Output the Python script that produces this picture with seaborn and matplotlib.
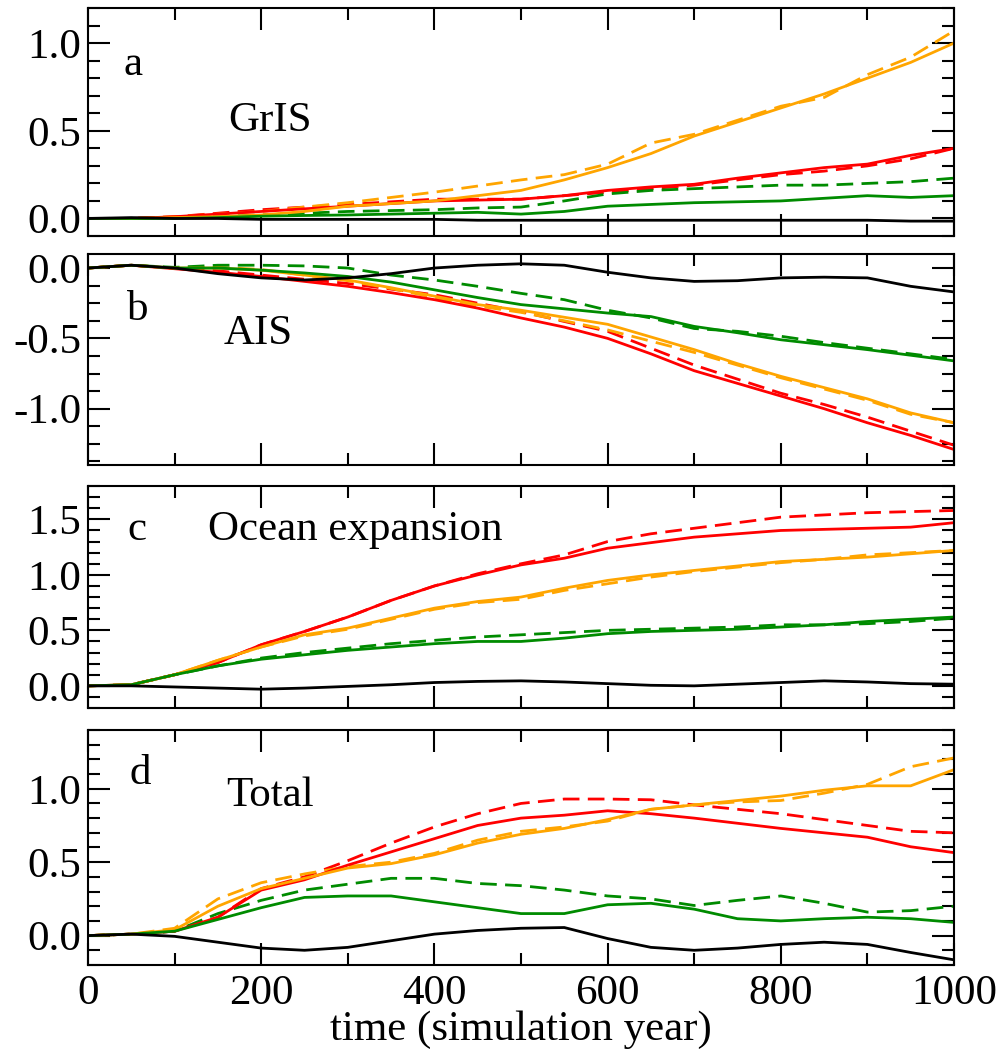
import numpy as np
import pandas as pd
import matplotlib
matplotlib.use("Agg")
import matplotlib.pyplot as plt
from matplotlib.ticker import MultipleLocator, FormatStrFormatter
import seaborn as sns

# ---- data: sea-level contributions sampled every 50 simulation years ----
years = [0, 50, 100, 150, 200, 250, 300, 350, 400, 450, 500,
         550, 600, 650, 700, 750, 800, 850, 900, 950, 1000]

# (a) GrIS
gris_orange = [0, 0.0, 0.005, 0.01, 0.02, 0.04, 0.07, 0.085, 0.10, 0.13, 0.16,
               0.22, 0.29, 0.37, 0.47, 0.55, 0.63, 0.71, 0.80, 0.89, 1.00]
gris_orange_d = [0, 0.0, 0.01, 0.025, 0.04, 0.065, 0.09, 0.12, 0.15, 0.185, 0.22,
                 0.25, 0.31, 0.43, 0.48, 0.56, 0.64, 0.69, 0.82, 0.92, 1.07]
gris_red = [0, 0.0, 0.01, 0.025, 0.04, 0.055, 0.07, 0.085, 0.10, 0.105, 0.11,
            0.13, 0.16, 0.18, 0.195, 0.23, 0.26, 0.29, 0.31, 0.36, 0.40]
gris_red_d = [0, 0.0, 0.01, 0.03, 0.05, 0.065, 0.08, 0.095, 0.11, 0.11, 0.11,
              0.13, 0.15, 0.17, 0.19, 0.22, 0.25, 0.27, 0.30, 0.34, 0.40]
gris_green = [0, 0.0, 0.0, 0.005, 0.013, 0.017, 0.02, 0.025, 0.03, 0.035, 0.025,
              0.04, 0.07, 0.08, 0.09, 0.095, 0.10, 0.115, 0.13, 0.12, 0.13]
gris_green_d = [0, 0.0, 0.005, 0.01, 0.02, 0.03, 0.04, 0.045, 0.05, 0.06, 0.065,
                0.10, 0.14, 0.16, 0.17, 0.18, 0.19, 0.19, 0.20, 0.21, 0.23]
gris_black = [0, 0.005, 0.0, 0.0, -0.005, -0.005, -0.005, -0.005, -0.005, -0.01, -0.01,
              -0.01, -0.01, -0.01, -0.01, -0.01, -0.01, -0.01, -0.01, -0.015, -0.015]

# (b) AIS
ais_orange = [0, 0.02, 0.0, 0.0, -0.015, -0.05, -0.085, -0.14, -0.20, -0.26, -0.30,
              -0.35, -0.40, -0.49, -0.58, -0.68, -0.77, -0.85, -0.93, -1.03, -1.10]
ais_orange_d = [0, 0.02, 0.0, 0.005, -0.01, -0.05, -0.09, -0.145, -0.21, -0.27, -0.315,
                -0.375, -0.44, -0.52, -0.60, -0.69, -0.78, -0.86, -0.94, -1.04, -1.10]
ais_red = [0, 0.02, -0.005, -0.03, -0.06, -0.095, -0.13, -0.175, -0.225, -0.285, -0.355,
           -0.42, -0.50, -0.61, -0.73, -0.82, -0.91, -1.00, -1.10, -1.19, -1.29]
ais_red_d = [0, 0.02, 0.0, -0.02, -0.05, -0.08, -0.11, -0.15, -0.19, -0.25, -0.31,
             -0.38, -0.45, -0.57, -0.69, -0.79, -0.89, -0.97, -1.06, -1.16, -1.26]
ais_green = [0, 0.02, 0.0, 0.0, -0.015, -0.035, -0.06, -0.10, -0.155, -0.21, -0.26,
             -0.29, -0.32, -0.345, -0.415, -0.46, -0.51, -0.545, -0.58, -0.62, -0.66]
ais_green_d = [0, 0.02, 0.005, 0.02, 0.02, 0.015, 0.0, -0.05, -0.085, -0.13, -0.18,
               -0.225, -0.30, -0.355, -0.43, -0.45, -0.485, -0.53, -0.57, -0.61, -0.65]
ais_black = [0, 0.02, 0.0, -0.04, -0.07, -0.085, -0.07, -0.04, 0.0, 0.02, 0.03,
             0.02, -0.03, -0.07, -0.095, -0.09, -0.07, -0.065, -0.07, -0.13, -0.17]

# (c) Ocean expansion
ocn_orange = [0, 0.01, 0.10, 0.23, 0.35, 0.46, 0.52, 0.61, 0.70, 0.76, 0.80,
              0.88, 0.95, 1.00, 1.04, 1.08, 1.12, 1.14, 1.16, 1.19, 1.22]
ocn_orange_d = [0, 0.01, 0.10, 0.23, 0.35, 0.45, 0.51, 0.60, 0.69, 0.75, 0.78,
                0.86, 0.92, 0.98, 1.03, 1.07, 1.11, 1.14, 1.18, 1.20, 1.22]
ocn_red = [0, 0.01, 0.10, 0.21, 0.37, 0.49, 0.62, 0.77, 0.90, 1.00, 1.09,
           1.15, 1.24, 1.29, 1.34, 1.37, 1.40, 1.41, 1.42, 1.43, 1.47]
ocn_red_d = [0, 0.01, 0.10, 0.21, 0.37, 0.49, 0.62, 0.77, 0.90, 1.01, 1.10,
             1.18, 1.30, 1.37, 1.42, 1.47, 1.52, 1.54, 1.56, 1.57, 1.58]
ocn_green = [0, 0.01, 0.10, 0.18, 0.24, 0.28, 0.32, 0.35, 0.38, 0.40, 0.40,
             0.43, 0.47, 0.49, 0.50, 0.51, 0.53, 0.55, 0.58, 0.60, 0.62]
ocn_green_d = [0, 0.01, 0.10, 0.18, 0.25, 0.30, 0.34, 0.38, 0.41, 0.44, 0.46,
               0.48, 0.50, 0.51, 0.52, 0.53, 0.55, 0.55, 0.56, 0.58, 0.61]
ocn_black = [0, 0.0, -0.01, -0.02, -0.03, -0.02, -0.005, 0.01, 0.03, 0.04, 0.045,
             0.035, 0.02, 0.005, 0.0, 0.015, 0.03, 0.045, 0.035, 0.02, 0.015]

# (d) Total
tot_orange = [0, 0.01, 0.04, 0.20, 0.32, 0.39, 0.46, 0.49, 0.55, 0.63, 0.69,
              0.73, 0.79, 0.86, 0.89, 0.92, 0.95, 0.99, 1.02, 1.02, 1.13]
tot_orange_d = [0, 0.01, 0.05, 0.25, 0.36, 0.42, 0.47, 0.50, 0.56, 0.65, 0.71,
                0.74, 0.78, 0.86, 0.89, 0.91, 0.92, 0.97, 1.03, 1.15, 1.21]
tot_red = [0, 0.01, 0.03, 0.125, 0.31, 0.38, 0.48, 0.57, 0.66, 0.75, 0.80,
           0.82, 0.85, 0.83, 0.80, 0.765, 0.73, 0.70, 0.67, 0.605, 0.565]
tot_red_d = [0, 0.01, 0.03, 0.125, 0.32, 0.40, 0.51, 0.63, 0.74, 0.83, 0.90,
             0.93, 0.93, 0.925, 0.89, 0.86, 0.83, 0.79, 0.75, 0.71, 0.70]
tot_green = [0, 0.01, 0.03, 0.11, 0.19, 0.26, 0.27, 0.27, 0.23, 0.19, 0.15,
             0.15, 0.21, 0.22, 0.18, 0.115, 0.10, 0.115, 0.125, 0.115, 0.09]
tot_green_d = [0, 0.01, 0.03, 0.15, 0.24, 0.31, 0.35, 0.39, 0.39, 0.355, 0.34,
               0.31, 0.27, 0.25, 0.205, 0.24, 0.27, 0.22, 0.16, 0.17, 0.20]
tot_black = [0, 0.01, -0.005, -0.045, -0.085, -0.10, -0.08, -0.035, 0.01, 0.035, 0.05,
             0.055, -0.02, -0.08, -0.10, -0.085, -0.06, -0.045, -0.06, -0.115, -0.165]

panel_letters = ["a", "b", "c", "d"]
panel_titles = ["GrIS", "AIS", "Ocean expansion", "Total"]
x_label = "time (simulation year)"

ORANGE, RED, GREEN, BLACK = "#FFA500", "#FF0000", "#008B00", "#000000"

panels = [
    dict(series=[(gris_red_d, RED, True), (gris_orange_d, ORANGE, True), (gris_green_d, GREEN, True),
                 (gris_red, RED, False), (gris_orange, ORANGE, False), (gris_green, GREEN, False),
                 (gris_black, BLACK, False)],
         ylim=(-0.1, 1.2), minor=0.1,
         pos=[0.0878, 0.7765, 0.8643, 0.2159],
         letter_xy=(41, 0.82), title_xy=(162, 0.50)),
    dict(series=[(ais_red_d, RED, True), (ais_orange_d, ORANGE, True), (ais_green_d, GREEN, True),
                 (ais_red, RED, False), (ais_orange, ORANGE, False), (ais_green, GREEN, False),
                 (ais_black, BLACK, False)],
         ylim=(-1.4, 0.1), minor=0.125,
         pos=[0.0878, 0.5597, 0.8643, 0.1998],
         letter_xy=(45, -0.37), title_xy=(157, -0.54)),
    dict(series=[(ocn_red_d, RED, True), (ocn_orange_d, ORANGE, True), (ocn_green_d, GREEN, True),
                 (ocn_red, RED, False), (ocn_orange, ORANGE, False), (ocn_green, GREEN, False),
                 (ocn_black, BLACK, False)],
         ylim=(-0.2, 1.8), minor=0.1,
         pos=[0.0878, 0.3295, 0.8643, 0.2102],
         letter_xy=(46, 1.31), title_xy=(139, 1.31)),
    dict(series=[(tot_red_d, RED, True), (tot_orange_d, ORANGE, True), (tot_green_d, GREEN, True),
                 (tot_red, RED, False), (tot_orange, ORANGE, False), (tot_green, GREEN, False),
                 (tot_black, BLACK, False)],
         ylim=(-0.2, 1.4), minor=0.1,
         pos=[0.0878, 0.0862, 0.8643, 0.2225],
         letter_xy=(48, 1.03), title_xy=(160, 0.88)),
]

sns.set_style("ticks")
plt.rcParams["font.family"] = ["Liberation Serif", "DejaVu Serif"]
plt.rcParams["axes.unicode_minus"] = False
plt.rcParams["text.color"] = "black"
plt.rcParams["axes.labelcolor"] = "black"
plt.rcParams["xtick.color"] = "black"
plt.rcParams["ytick.color"] = "black"

FS = 31
fig = plt.figure(figsize=(10.02, 10.56), dpi=100)

for i, p in enumerate(panels):
    ax = fig.add_axes(p["pos"])
    for vals, col, dashed in p["series"]:
        sns.lineplot(x=years, y=vals, ax=ax, color=col, linewidth=2.0,
                     linestyle=(0, (6, 3)) if dashed else "-")
    ax.set_xlim(0, 1000)
    ax.set_ylim(*p["ylim"])
    ax.xaxis.set_major_locator(MultipleLocator(200))
    ax.xaxis.set_minor_locator(MultipleLocator(100))
    ax.yaxis.set_major_locator(MultipleLocator(0.5))
    ax.yaxis.set_minor_locator(MultipleLocator(p["minor"]))
    ax.yaxis.set_major_formatter(FormatStrFormatter("%.1f"))
    ax.tick_params(which="both", direction="in", top=True, right=True,
                   width=1.5, labelsize=FS, color="black", labelcolor="black")
    ax.tick_params(which="major", length=16)
    ax.tick_params(which="minor", length=8.5)
    ax.tick_params(axis="y", pad=5)
    ax.tick_params(axis="x", pad=7)
    for s in ax.spines.values():
        s.set_linewidth(1.5)
        s.set_color("black")
    ax.set_ylabel("")
    if i < 3:
        ax.tick_params(axis="x", labelbottom=False)
        ax.set_xlabel("")
    else:
        ax.set_xlabel(x_label, fontsize=FS, labelpad=-2, color="black")
    ax.text(*p["letter_xy"], panel_letters[i], fontsize=FS, ha="left", va="baseline", color="black")
    ax.text(*p["title_xy"], panel_titles[i], fontsize=FS, ha="left", va="baseline", color="black")

fig.savefig("out.png", dpi=100)
